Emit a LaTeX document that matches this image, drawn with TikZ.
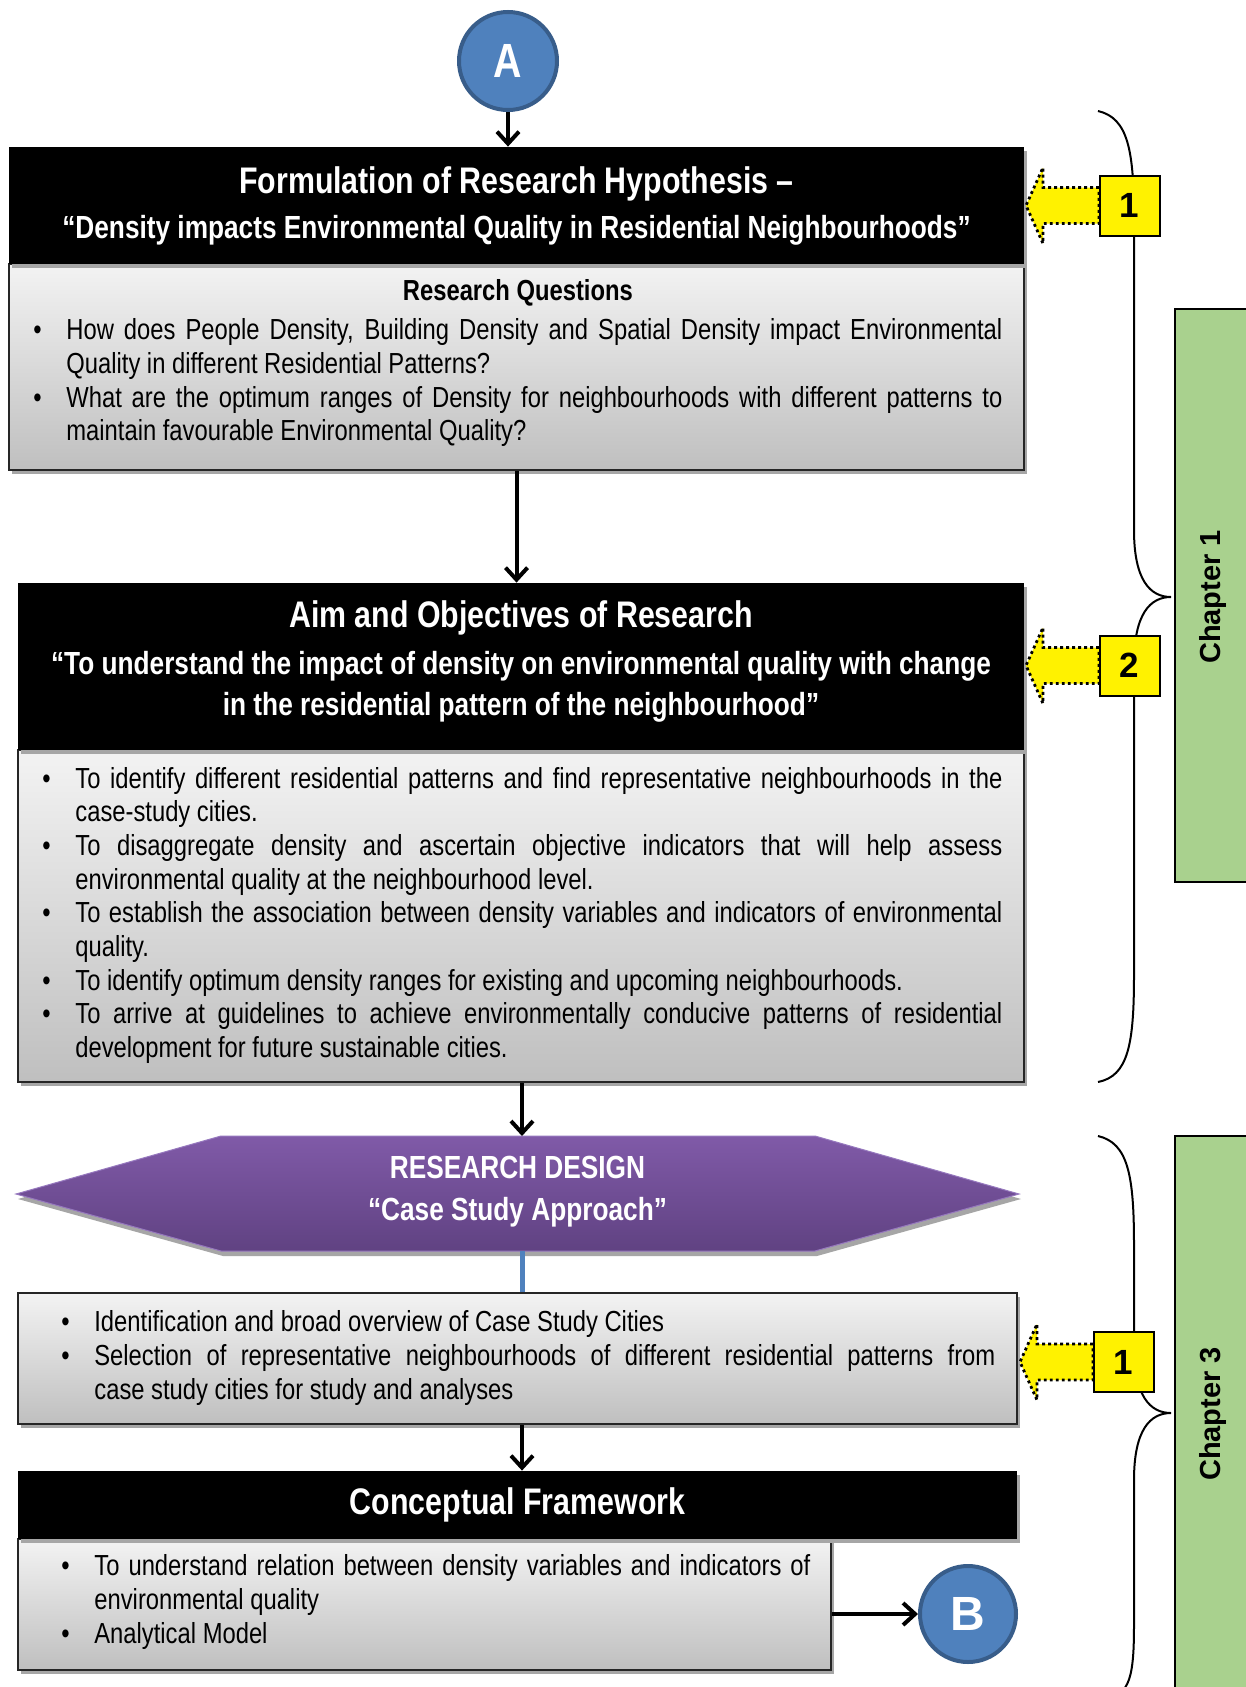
\documentclass[tikz,border=0pt]{standalone}
\usepackage{fontspec}
\setmainfont{Liberation Sans}
\newfontfamily\narrowfont[FakeStretch=0.82]{Liberation Sans}
\usepackage{tikz}
\usetikzlibrary{shadows}
\usetikzlibrary{arrows.meta}
\usepackage{xcolor}

\definecolor{circblue}{RGB}{79,129,189}
\definecolor{circedge}{RGB}{56,93,138}
\definecolor{chapgreen}{RGB}{169,209,142}
\definecolor{purptop}{RGB}{128,90,168}
\definecolor{purpbot}{RGB}{96,66,130}
\definecolor{purpedge}{RGB}{150,120,190}
\definecolor{boxtop}{RGB}{243,243,243}
\definecolor{boxbot}{RGB}{191,191,191}

\hyphenpenalty=10000
\exhyphenpenalty=10000
\tolerance=2000
\newlength{\bind}
\setlength{\bind}{16.5pt}
\newcommand{\bpt}{\par\noindent\hangindent=\bind\hangafter=1\makebox[\bind][l]{\textbullet}\ignorespaces}

\tikzset{
  hdr/.style={fill=black, text=white, align=center, inner sep=0pt,
    font=\narrowfont\bfseries\fontsize{16}{20.5}\selectfont,
    drop shadow={shadow xshift=1.5pt, shadow yshift=-2pt, fill=black!35, opacity=1}},
  hdrtext/.style={text=white, align=center, inner sep=0pt,
    font=\narrowfont\bfseries\fontsize{16}{20.5}\selectfont},
  bodybox/.style={draw=black!85, line width=1pt, top color=boxtop, bottom color=boxbot, inner sep=0pt,
    drop shadow={shadow xshift=1.5pt, shadow yshift=-2pt, fill=black!35, opacity=1}},
  bodytext/.style={anchor=west, align=justify, inner sep=0pt, yshift=3.5pt,
    font=\narrowfont\fontsize{14.5}{16.85}\selectfont},
  circ/.style={circle, fill=circblue, draw=circedge, line width=2pt, text=white, inner sep=0pt},
  flow/.style={line width=2pt, -{Straight Barb[length=6pt, width=11pt]}},
  ybox/.style={fill=yellow, draw=black, line width=1pt, minimum size=30pt, inner sep=0pt,
    font=\bfseries\fontsize{17.5}{20}\selectfont},
  yarrow/.style={fill=yellow, draw=black, line width=1.4pt, dash pattern=on 1.4pt off 1.6pt},
  chapbox/.style={fill=chapgreen, draw=black, line width=1pt},
  chaplab/.style={rotate=90, inner sep=0pt, font=\bfseries\fontsize{14.5}{17}\selectfont},
  brace/.style={line width=1pt}
}

\begin{document}
\begin{tikzpicture}[x=0.5pt, y=-0.5pt]
\clip (0,0) rectangle (1246,1687);
\fill [white] (0,0) rectangle (1246,1687);

% chapter tabs and braces
\draw [chapbox] (1175,309) rectangle (1262,882);
\draw [chapbox] (1175,1136) rectangle (1262,1700);
\node [chaplab] (ch1) at (1213,597) {Chapter 1};
\node [chaplab] (ch3) at (1213,1414) {Chapter 3};

\draw [brace] (1098,111) .. controls (1128,118) and (1134,150) .. (1134,220) -- (1134,530)
  .. controls (1134,580) and (1150,597) .. (1171,597)
  .. controls (1150,597) and (1134,614) .. (1134,664) -- (1134,975)
  .. controls (1134,1045) and (1128,1076) .. (1098,1082);
\draw [brace] (1098,1136) .. controls (1128,1143) and (1134,1175) .. (1134,1245) -- (1134,1346)
  .. controls (1134,1396) and (1150,1413) .. (1171,1413)
  .. controls (1150,1413) and (1134,1430) .. (1134,1480) -- (1134,1625)
  .. controls (1134,1685) and (1128,1696) .. (1098,1702);

% main boxes
\node [circ, minimum size=49pt, font=\narrowfont\bfseries\fontsize{24}{24}\selectfont] (A) at (508,61) {A};

\node [bodybox, minimum width=507.5pt, minimum height=103pt] (b1) at (516.5,367) {};
\node [hdr, minimum width=507.5pt, minimum height=58.5pt] (h1) at (516.5,205.5)
  {{\fontsize{18.5}{20}\selectfont Formulation of Research Hypothesis –}\\[2pt]
   “Density impacts Environmental Quality in Residential Neighbourhoods”};
\node [bodytext, text width=484.5pt, yshift=-1.5pt] (q1) at ([xshift=12.5pt]b1.west)
  {{\centering\bfseries Research Questions\par}\vspace{3pt}
   \bpt How does People Density, Building Density and Spatial Density impact Environmental\linebreak Quality in different Residential Patterns?
   \bpt What are the optimum ranges of Density for neighbourhoods with different patterns to\linebreak maintain favourable Environmental Quality?\par};

\node [bodybox, minimum width=503pt, minimum height=166pt] (b2) at (521,916) {};
\node [hdr, minimum width=503pt, minimum height=83.5pt] (h2) at (521,666.5) {};
\node [hdrtext] (h2t) at ([yshift=2.5pt]h2.center)
  {{\fontsize{18.5}{20}\selectfont Aim and Objectives of Research}\\[3pt]
   “To understand the impact of density on environmental quality with change\\
   in the residential pattern of the neighbourhood”};
\node [bodytext, text width=480pt] (q2) at ([xshift=12.5pt]b2.west)
  {\bpt To identify different residential patterns and find representative neighbourhoods in the\linebreak case-study cities.
   \bpt To disaggregate density and ascertain objective indicators that will help assess\linebreak environmental quality at the neighbourhood level.
   \bpt To establish the association between density variables and indicators of environmental\linebreak quality.
   \bpt To identify optimum density ranges for existing and upcoming neighbourhoods.
   \bpt To arrive at guidelines to achieve environmentally conducive patterns of residential\linebreak development for future sustainable cities.\par};

% research design
\fill [black!35] (18,1199) -- (223,1141) -- (817,1141) -- (1021,1199) -- (817,1256) -- (223,1256) -- cycle;
\shade [top color=purptop, bottom color=purpbot, draw=purpedge, line width=0.5pt]
  (16,1194) -- (221,1136) -- (815,1136) -- (1019,1194) -- (815,1251) -- (221,1251) -- cycle;
\coordinate (rdtop) at (522,1136);
\coordinate (rdbot) at (522,1251);
\node [text=white, align=center, inner sep=0pt, font=\narrowfont\bfseries\fontsize{16}{21}\selectfont] (rd) at (517.5,1192)
  {RESEARCH DESIGN\\“Case Study Approach”};

\node [bodybox, minimum width=499.5pt, minimum height=65.5pt] (b3) at (517.5,1358.5) {};
\node [bodytext, text width=467pt] (q3) at ([xshift=22pt]b3.west)
  {\bpt Identification and broad overview of Case Study Cities
   \bpt Selection of representative neighbourhoods of different residential patterns from\linebreak case study cities for study and analyses\par};

\node [bodybox, minimum width=406.5pt, minimum height=65.5pt] (b4) at (424.5,1604.5) {};
\node [hdr, minimum width=499.5pt, minimum height=34pt, font=\narrowfont\bfseries\fontsize{18.5}{20}\selectfont] (h4) at (517.5,1505) {Conceptual Framework};
\node [bodytext, text width=374.5pt, yshift=1pt] (q4) at ([xshift=22pt]b4.west)
  {\bpt To understand relation between density variables and indicators of\linebreak environmental quality
   \bpt Analytical Model\par};

\node [circ, minimum size=48pt, font=\bfseries\fontsize{24}{24}\selectfont] (B) at (968,1614) {B};

% connectors
\draw [flow] (A) -- (A |- h1.north);
\draw [flow] (b1.south) -- (b1.south |- h2.north);
\draw [flow] (b2.south -| rdtop) -- (rdtop);
\draw [line width=2.5pt, circblue] (rdbot) -- (rdbot |- b3.north);
\draw [flow] (b3.south -| rdtop) -- (rdtop |- h4.north);
\draw [flow] (b4.east |- B) -- (B);

% chapter markers
\foreach \n/\xw/\yc/\lab in {1/1099/205.5/1, 2/1099/665.5/2, 3/1093/1362/1} {
  \filldraw [yarrow] (\xw,\yc-18) -- (\xw-56,\yc-18) -- (\xw-56,\yc-38) -- (\xw-73,\yc)
    -- (\xw-56,\yc+38) -- (\xw-56,\yc+18) -- (\xw,\yc+18) -- cycle;
  \node [ybox] (y\n) at (\xw+30.5,\yc) {\lab};
}
\end{tikzpicture}
\end{document}
